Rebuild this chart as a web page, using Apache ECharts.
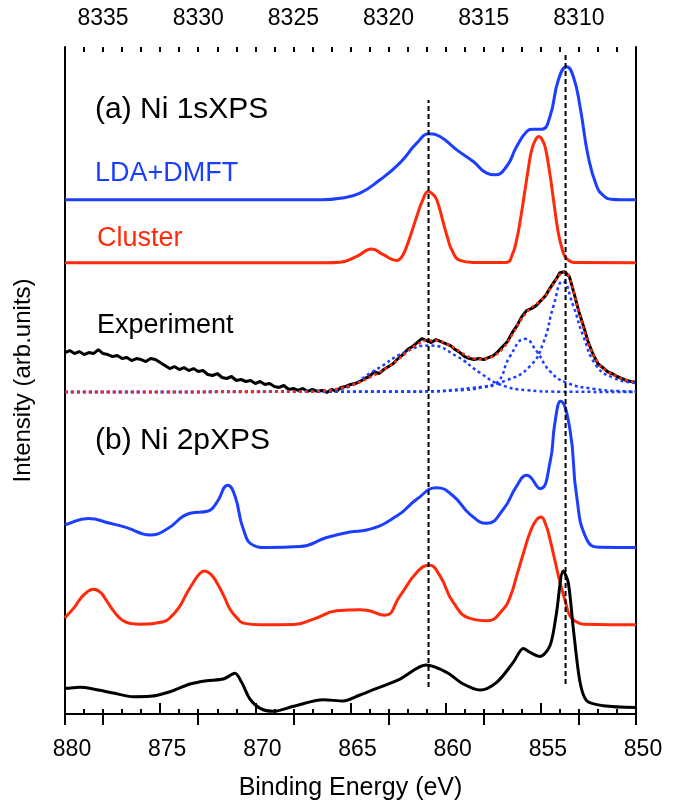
<!DOCTYPE html>
<html>
<head>
<meta charset="utf-8">
<script src="https://cdn.jsdelivr.net/npm/echarts@6/dist/echarts.min.js"></script>
<style>
  html, body { margin: 0; padding: 0; background: #fff; }
  #chart { width: 684px; height: 806px; }
</style>
</head>
<body>
<div id="chart"></div>
<script>
// binding energy (eV) vs intensity (arb. units), offsets already applied
const ldaDmft1s = [[880,515],[866.5,515],[865.55,516.5],[864.5,521.7],[863.45,535],[862.4,552],[861.52,571.7],[860.86,581],[860.3,578.3],[859.42,565],[858.55,553.3],[857.84,541.7],[857.41,540],[856.8,548.3],[856.27,568.3],[855.74,583.3],[855.4,585.7],[854.95,585.7],[854.52,598.3],[854.08,635],[853.64,648.3],[853.29,638.3],[852.94,608.3],[852.51,558.3],[852.06,528.3],[851.7,519],[851.3,515.5],[850.8,515],[850,515]];

const cluster1s = [[880,452],[866.3,452],[865.55,452.5],[864.67,458.3],[863.89,465.7],[863.28,460],[862.57,454.3],[862.3,458],[862.05,468.3],[861.8,482],[861.52,498.3],[861.2,515],[860.91,523.3],[860.7,521],[860.47,515],[860.12,491.7],[859.9,477],[859.68,465],[859.25,454.3],[858.55,452.3],[856.8,452.3],[856.5,460],[856.27,475],[856.05,498],[855.83,525],[855.65,547],[855.48,565],[855.28,575],[855.1,578.3],[854.94,575.5],[854.78,568.3],[854.6,550],[854.43,528.3],[854.25,503],[854.08,481.7],[853.9,467],[853.73,458.3],[853.5,454],[853.29,452.3],[850,452]];

const expEnergy1s = [880,879.75,879.5,879.25,879,878.75,878.5,878.25,878,877.75,877.5,877.25,877,876.75,876.5,876.25,876,875.75,875.5,875.25,875,874.75,874.5,874.25,874,873.75,873.5,873.25,873,872.75,872.5,872.25,872,871.75,871.5,871.25,871,870.75,870.5,870.25,870,869.75,869.5,869.25,869,868.75,868.5,868.25,868,867.75,867.5,867.25,867,866.75,866.5,866.25,866,865.75,865.5,865.25,865,864.75,864.5,864.25,864,863.75,863.5,863.25,863,862.75,862.5,862.25,862,861.75,861.5,861.25,861,860.75,860.5,860.25,860,859.75,859.5,859.25,859,858.75,858.5,858.25,858,857.75,857.5,857.25,857,856.75,856.5,856.25,856,855.75,855.5,855.25,855,854.75,854.5,854.25,854,853.75,853.5,853.25,853,852.75,852.5,852.25,852,851.75,851.5,851.25,851,850.75,850.5,850.25,850];
const expIntensity1s = [362,364,361,363,360,362,361,365,361,360,358,359,356,357,354,356,355,353,356,355,352,349,346,348,345,347,344,346,343,344,340,339,341,337,336,338,334,335,333,334,331,333,330,331,328,327,329,325,326,324,326,323,325,323,324,322,325,323,327,328,330,331,333,336,338,343,341,345,348,351,356,360,365,368,372,376,374,372,375,373,371,369,365,362,358,356,355,356,355,357,359,363,368,373,382,389,398,404,406,409,414,419,427,434,442,443,438,421,403,388,372,360,351,347,343,341,338,336,334,333,332];

const fit1s = [[880,322.5],[867,322.8],[866.5,323.5],[866,324.5],[865.5,326.5],[865,329],[864.5,332.5],[864,337],[863.5,342],[863,348],[862.5,355],[862,363],[861.5,370],[861,374],[860.5,374],[860,371],[859.5,366],[859,360],[858.5,356],[858,355.5],[857.5,358.5],[857,366],[856.5,380],[856,396],[855.5,407],[855,414],[854.5,426],[854,440],[853.75,443],[853.5,437],[853.25,421],[853,403],[852.5,372],[852,352],[851.5,343],[851,338],[850.5,334.5],[850,332]];

const comp1 = [[880,322.5],[870,322.7],[867,323.5],[865.55,325.5],[863.8,343.3],[862.05,363.3],[860.82,369],[859.42,358.3],[858.2,341.7],[857.14,330],[855.74,324.3],[854,322.8],[850,322.5]];
const comp2 = [[880,322.5],[862,322.8],[859,324.5],[858.2,326.7],[857.32,331.7],[856.62,358.3],[855.83,375.7],[855.22,363.3],[854.52,343.3],[853.64,331.7],[852.24,325.7],[851,323.5],[850,323]];
const comp3 = [[880,322.5],[862,323],[858.55,326.7],[856.79,334.3],[855.57,348.3],[854.87,371.7],[854.34,408.3],[853.85,433.3],[853.29,408.3],[852.77,378.3],[852.06,348.3],[851.19,336.7],[850.14,331.7],[850,331.5]];

const ldaDmft2p = [[880,189],[879.91,190],[878.78,195.7],[877.64,191],[876.76,186.7],[875.53,179.3],[874.66,185],[873.43,201],[872.47,203.3],[872.03,211.7],[871.45,229],[871.07,218.3],[870.63,185],[870.11,169],[869.4,166.7],[867.65,167.7],[866.25,176.7],[865.03,182.3],[864.15,184.3],[862.57,198.3],[861.52,215],[860.47,226.7],[859.6,218.3],[858.72,200],[857.84,191],[856.97,205],[856.27,228.3],[855.74,239],[855.04,225.7],[854.52,251.7],[854.26,291.7],[853.96,313.3],[853.47,285],[853.12,218.3],[852.59,175],[851.89,167],[850,166.7]];

const cluster2p = [[880,96],[879.91,98.3],[879.5,107],[879.21,115],[878.85,122],[878.51,125],[878.15,122],[877.81,113.3],[877.4,102],[876.94,93.3],[876.5,90.5],[876.06,90],[874.84,92.3],[874.4,98],[873.96,108.3],[873.6,121],[873.26,131.7],[872.95,140],[872.68,143.3],[872.35,140],[872.03,131.7],[871.65,118],[871.33,105],[870.95,96],[870.63,91],[869.75,89.3],[868,89.7],[866.95,95],[865.72,103.3],[864.5,104.5],[864.15,104],[863.19,99],[862.4,118.3],[861.52,141.7],[860.86,149],[860.3,138.3],[859.6,111.7],[858.72,95.7],[857.84,93.3],[856.97,105],[856.6,118],[856.27,138.3],[855.9,162],[855.57,181.7],[855.25,194],[854.99,197.3],[854.75,190],[854.52,175],[854.25,153],[853.99,131.7],[853.7,112],[853.47,98.3],[853.1,92],[852.77,90],[850,89.3]];

const exp2p = [[880,25.5],[879.91,25.7],[879.21,26.7],[878.51,25],[877.46,21],[876.41,17.3],[875.53,17.7],[874.48,22.3],[873.43,30],[872.56,33.3],[871.68,35],[871.07,40.7],[870.72,31.7],[870.28,15],[869.75,5.7],[869.06,2.7],[868,7.7],[866.43,14.3],[865.38,13],[864.5,19],[864.15,21.7],[862.4,35],[861.03,49],[859.95,41.7],[859.07,30],[858.2,24],[857.32,31.7],[856.45,51.7],[855.92,65.7],[855.57,61.7],[855.04,57.7],[854.52,68.3],[854.2,98.3],[853.82,143.3],[853.56,131.7],[853.29,85],[852.94,31.7],[852.59,13.3],[851.72,8.3],[850,6.5]];

const guideA = [[860.9,27],[860.9,615]];
const guideB = [[853.7,30],[853.7,662]];

const bottomRange = [850, 880];
const topRange = [8307, 8337];

const BLUE = '#1c3fff';
const RED = '#ff2a0a';
const FONT = 'Liberation Sans, Arial, sans-serif';

const chart = echarts.init(document.getElementById('chart'));

function curve(data, color, smooth) {
  return {
    type: 'line', data: data, showSymbol: false, smooth: smooth,
    lineStyle: { color: color, width: 3 }, z: 3
  };
}
function dotted(data, color) {
  return {
    type: 'line', data: data, showSymbol: false, smooth: 0.5,
    lineStyle: { color: color, width: 2.5, type: [3, 3] }, z: 4
  };
}
function guide(data) {
  return {
    type: 'line', data: data, showSymbol: false,
    lineStyle: { color: '#000', width: 2, type: [5, 3] }, z: 5
  };
}

const option = {
  animation: false,
  backgroundColor: '#fff',
  grid: { left: 65, right: 48, top: 47, bottom: 91 },
  xAxis: [
    {
      type: 'value', position: 'bottom', min: bottomRange[0], max: bottomRange[1],
      interval: 5, inverse: true,
      name: 'Binding Energy (eV)', nameLocation: 'middle', nameGap: 62,
      nameTextStyle: { fontSize: 25, color: '#000', fontFamily: FONT },
      axisLine: { lineStyle: { color: '#000', width: 2 } },
      axisTick: { inside: true, length: 11, lineStyle: { color: '#000', width: 2 } },
      minorTick: { show: true, splitNumber: 5, length: 5, lineStyle: { color: '#000', width: 2 } },
      axisLabel: { fontSize: 23, color: '#000', margin: 24, fontFamily: FONT, padding: [0, 0, 0, 14] },
      splitLine: { show: false }
    },
    {
      type: 'value', position: 'top', min: topRange[0], max: topRange[1], inverse: true,
      axisLine: { lineStyle: { color: '#000', width: 2 } },
      axisTick: { inside: true, length: 11, lineStyle: { color: '#000', width: 2 } },
      axisLabel: {
        fontSize: 23, color: '#000', margin: 17, fontFamily: FONT,
        formatter: v => (v % 5 === 0 ? String(v) : '')
      },
      splitLine: { show: false }
    },
    {
      type: 'value', position: 'top', min: topRange[0], max: topRange[1], inverse: true,
      interval: 1,
      axisLine: { show: false },
      axisTick: { inside: true, length: 5, lineStyle: { color: '#000', width: 2 } },
      axisLabel: { show: false },
      splitLine: { show: false }
    }
  ],
  yAxis: [
    {
      type: 'value', min: 0, max: 668,
      name: 'Intensity (arb.units)', nameLocation: 'middle', nameGap: 30,
      nameTextStyle: { fontSize: 24, color: '#000', fontFamily: FONT },
      axisLine: { show: true, lineStyle: { color: '#000', width: 2 } },
      axisTick: { show: false }, axisLabel: { show: false }, splitLine: { show: false }
    },
    {
      type: 'value', min: 0, max: 668, position: 'right',
      axisLine: { show: true, lineStyle: { color: '#000', width: 2 } },
      axisTick: { show: false }, axisLabel: { show: false }, splitLine: { show: false }
    }
  ],
  graphic: [
    { type: 'text', left: 95, top: 95, style: { text: '(a) Ni 1sXPS', fontSize: 30, fill: '#000', fontFamily: FONT } },
    { type: 'text', left: 95, top: 160, style: { text: 'LDA+DMFT', fontSize: 27, fill: BLUE, fontFamily: FONT } },
    { type: 'text', left: 97, top: 225, style: { text: 'Cluster', fontSize: 27, fill: RED, fontFamily: FONT } },
    { type: 'text', left: 97, top: 312, style: { text: 'Experiment', fontSize: 27, fill: '#000', fontFamily: FONT } },
    { type: 'text', left: 95, top: 426, style: { text: '(b) Ni 2pXPS', fontSize: 30, fill: '#000', fontFamily: FONT } }
  ],
  series: [
    curve(ldaDmft1s, BLUE, 0.5),
    curve(cluster1s, RED, 0.5),
    {
      type: 'line', data: expEnergy1s.map((e, i) => [e, expIntensity1s[i]]),
      showSymbol: false, lineStyle: { color: '#000', width: 3 }, z: 3
    },
    dotted(comp1, BLUE),
    dotted(comp2, BLUE),
    dotted(comp3, BLUE),
    dotted(fit1s, RED),
    curve(ldaDmft2p, BLUE, 0.5),
    curve(cluster2p, RED, 0.5),
    curve(exp2p, '#000', 0.3),
    guide(guideA),
    guide(guideB)
  ]
};

chart.setOption(option);
</script>
</body>
</html>
